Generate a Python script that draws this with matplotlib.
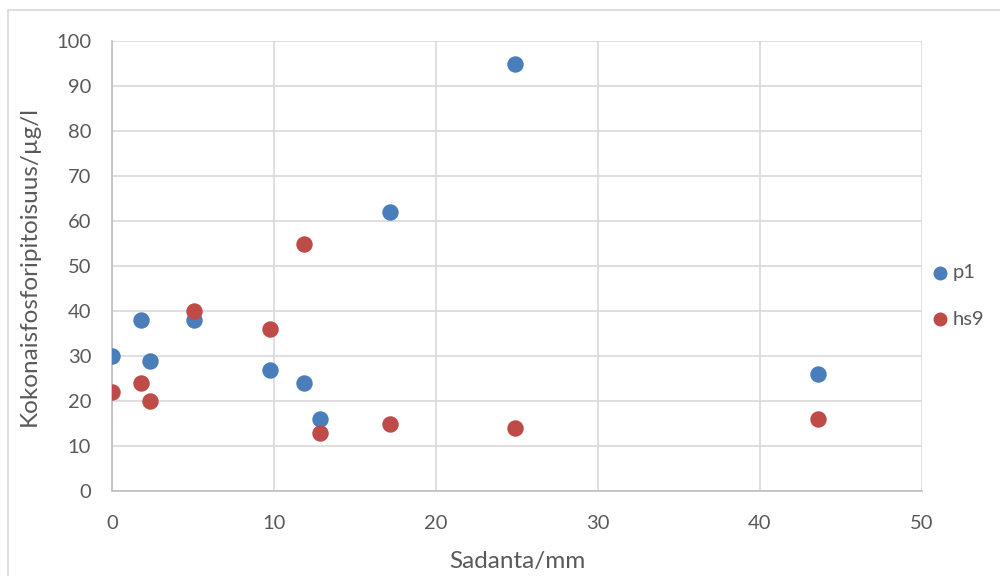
import matplotlib.pyplot as plt
from matplotlib.patches import Rectangle

fz = 14.5

sadanta = [0, 1.8, 2.35, 5.06, 9.75, 11.85, 12.84, 17.16, 24.9, 43.6]
p1 = [30, 38, 29, 38, 27, 24, 16, 62, 95, 26]
hs9 = [22, 24, 20, 40, 36, 55, 13, 15, 14, 16]

plt.rcParams['font.family'] = ['Lato', 'DejaVu Sans']

fig = plt.figure(figsize=(10, 5.76), dpi=100)
ax = fig.add_axes([0.112, 1 - 491 / 576, 0.81, 450 / 576])

ax.scatter(sadanta, p1, s=140, color='#4A7EBB', label='p1', zorder=3, linewidths=0)
ax.scatter(sadanta, hs9, s=140, color='#BE4B48', label='hs9', zorder=4, linewidths=0)

ax.set_xlim(0, 50)
ax.set_ylim(0, 100)
ax.set_xticks(range(0, 51, 10))
ax.set_yticks(range(0, 101, 10))
ax.grid(True, color='#D9D9D9', linewidth=1.2)
ax.set_axisbelow(True)
for s in ['top', 'right']:
    ax.spines[s].set_visible(False)
for s in ['left', 'bottom']:
    ax.spines[s].set_color('#BFBFBF')
    ax.spines[s].set_linewidth(1.2)
ax.tick_params(length=0, labelsize=fz, colors='#595959')
ax.tick_params(axis='x', pad=17)
ax.tick_params(axis='y', pad=15)

ax.set_xlabel('Sadanta/mm', fontsize=17.5, color='#595959', labelpad=14)
ax.set_ylabel('Kokonaisfosforipitoisuus/µg/l', fontsize=17.5, color='#595959', labelpad=12)

fig.legend(loc='center left', bbox_to_anchor=(0.928, 1 - 296 / 576), frameon=False,
           fontsize=fz, labelcolor='#595959', handletextpad=0.0, handlelength=1.2,
           labelspacing=1.45, markerscale=0.85, borderaxespad=0, borderpad=0)

fig.patches.append(Rectangle((0.008, -0.01), 1.0, 1 - 10 / 576 + 0.01, transform=fig.transFigure,
                             fill=False, edgecolor='#D9D9D9', linewidth=1.2))

plt.savefig('out.png', dpi=100)
plt.close()
